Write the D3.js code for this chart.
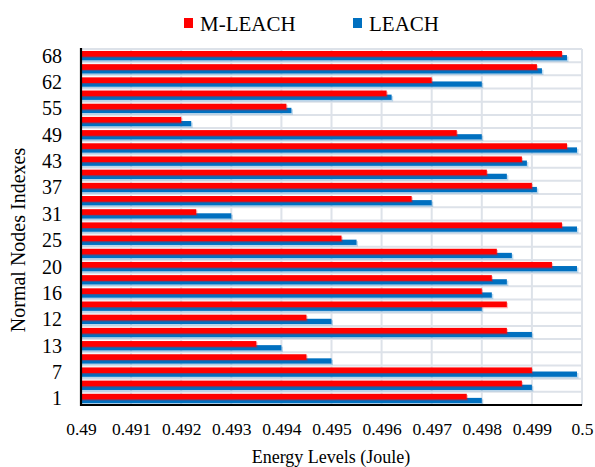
<!DOCTYPE html>
<html><head><meta charset="utf-8">
<script src="https://cdn.jsdelivr.net/npm/d3@7"></script>
<style>body{margin:0;background:#fff;} svg{display:block;} svg text{font-family:"Liberation Serif","Times New Roman",Times,"DejaVu Serif",serif;}</style>
</head><body>
<svg id="c" width="595" height="467"></svg>
<script>
// categories bottom to top (only every other one is labelled in the reference)
const categories = ["1","4","7","10","13","15","12","14","16","18","20","22","25","28","31","34","37","40","43","46","49","52","55","58","62","65","68"];
const mleach = [0.4977,0.4988,0.4990,0.4945,0.4935,0.4985,0.4945,0.4985,0.4980,0.4982,0.4994,0.4983,0.4952,0.4996,0.4923,0.4966,0.4990,0.4981,0.4988,0.4997,0.4975,0.4920,0.4941,0.4961,0.4970,0.4991,0.4996];
const leach  = [0.4980,0.4990,0.4999,0.4950,0.4940,0.4990,0.4950,0.4980,0.4982,0.4985,0.4999,0.4986,0.4955,0.4999,0.4930,0.4970,0.4991,0.4985,0.4989,0.4999,0.4980,0.4922,0.4942,0.4962,0.4980,0.4992,0.4997];
const xTicks = [0.49,0.491,0.492,0.493,0.494,0.495,0.496,0.497,0.498,0.499,0.5];
const seriesNames = ["M-LEACH","LEACH"];
const colors = ["#ff0000","#0070c0"];

const svg = d3.select("#c");
const L = 81, R = 582, T = 49, B = 405;

const x = d3.scaleLinear().domain([0.49,0.5]).range([L,R]);
const y = d3.scaleBand().domain(categories.slice().reverse()).range([T,B]).padding(0);
const bw = y.bandwidth();

// grid
const g = svg.append("g");
g.selectAll("line.v").data(xTicks).join("line")
  .attr("x1", d=>x(d)).attr("x2", d=>x(d)).attr("y1", T).attr("y2", B)
  .attr("stroke","#dde2e9").attr("stroke-width",2);
const hb = categories.map(c=>y(c)).concat([B]);
g.selectAll("line.h").data(hb).join("line")
  .attr("x1", L).attr("x2", R).attr("y1", d=>d).attr("y2", d=>d)
  .attr("stroke","#dde2e9").attr("stroke-width",2);

// bars
const rows = categories.map((c,i)=>({c, a: mleach[i], b: leach[i]}));
const bars = svg.append("g");
bars.selectAll("rect.sb").data(rows).join("rect")
  .attr("x", L).attr("y", d=>y(d.c)+bw*0.46+1.5)
  .attr("width", d=>x(d.b)-L+1.5).attr("height", bw*0.40)
  .attr("fill", colors[1]).attr("opacity",0.25);
bars.selectAll("rect.b").data(rows).join("rect")
  .attr("x", L).attr("y", d=>y(d.c)+bw*0.46)
  .attr("width", d=>x(d.b)-L).attr("height", bw*0.40)
  .attr("fill", colors[1]);
bars.selectAll("rect.sa").data(rows).join("rect")
  .attr("x", L).attr("y", d=>y(d.c)+bw*0.15+1.2)
  .attr("width", d=>x(d.a)-L+1.2).attr("height", bw*0.43)
  .attr("fill", colors[0]).attr("opacity",0.25);
bars.selectAll("rect.a").data(rows).join("rect")
  .attr("x", L).attr("y", d=>y(d.c)+bw*0.15)
  .attr("width", d=>x(d.a)-L).attr("height", bw*0.43)
  .attr("fill", colors[0]);

// axes lines
svg.append("line").attr("x1",L).attr("x2",L).attr("y1",T-1).attr("y2",B+1).attr("stroke","#000").attr("stroke-width",2.2);
svg.append("line").attr("x1",L-1).attr("x2",R).attr("y1",B).attr("y2",B).attr("stroke","#000").attr("stroke-width",2.2);

// x axis tick labels
const xa = svg.append("g").attr("transform",`translate(0,${B})`)
  .call(d3.axisBottom(x).tickValues(xTicks).tickSize(0).tickPadding(0).tickFormat(d=>String(+d.toFixed(3))));
xa.select(".domain").remove();
xa.attr("font-family",null).attr("font-size",null);
xa.selectAll("text").attr("dy",null).attr("y",30).attr("font-size",17.5).attr("fill","#000");

// y axis tick labels (every other)
const ya = svg.append("g").attr("transform",`translate(${L},0)`)
  .call(d3.axisLeft(y).tickValues(categories.filter((c,i)=>i%2===0)).tickSize(0).tickPadding(19));
ya.select(".domain").remove();
ya.attr("font-family",null).attr("font-size",null);
ya.selectAll("text").attr("font-size",20).attr("fill","#000").attr("dy","0.35em");

// titles
svg.append("text").attr("x",331).attr("y",463).attr("text-anchor","middle")
  .attr("font-size",18).text("Energy Levels (Joule)");
svg.append("text").attr("transform","translate(25,240) rotate(-90)").attr("text-anchor","middle")
  .attr("font-size",20).text("Normal Nodes Indexes");

// legend
const leg = [{n:seriesNames[0],c:colors[0],x:184},{n:seriesNames[1],c:colors[1],x:353}];
const lg = svg.append("g");
lg.selectAll("rect").data(leg).join("rect").attr("x",d=>d.x).attr("y",18).attr("width",9).attr("height",10).attr("fill",d=>d.c);
lg.selectAll("text").data(leg).join("text").attr("x",d=>d.x+16).attr("y",31)
  .attr("font-size",21).text(d=>d.n);
</script>
</body></html>
